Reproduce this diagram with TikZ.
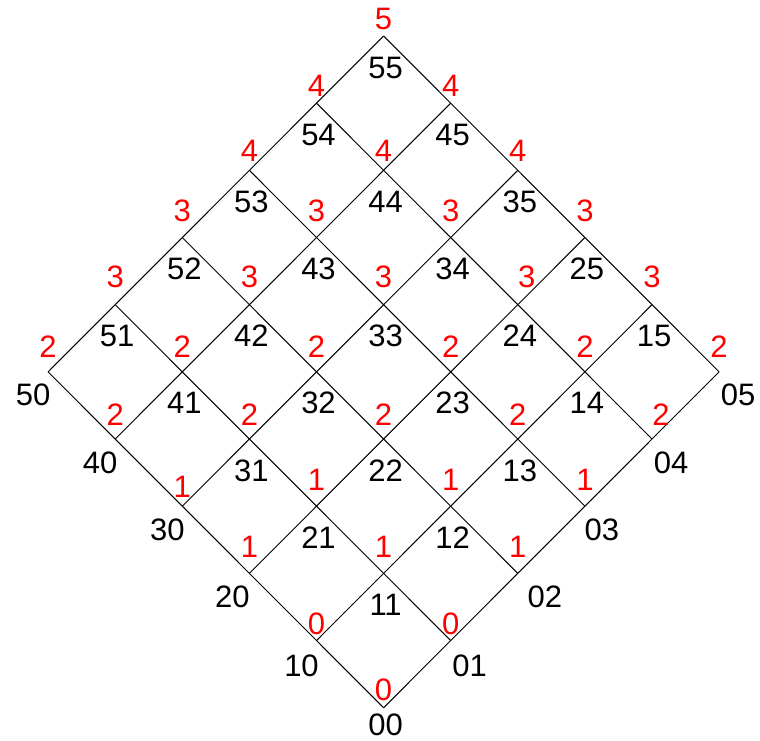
\documentclass[tikz,border=0pt]{standalone}
\usepackage{fontspec}
\setmainfont{Liberation Sans}
\usetikzlibrary{calc}
\begin{document}
\begin{tikzpicture}[x=0.5pt,y=-0.5pt,
  gridline/.style={line width=0.5pt, draw=black},
  redlab/.style={text=red, font=\fontsize{15.5}{18}\selectfont, anchor=base, inner sep=0pt},
  blacklab/.style={text=black, font=\fontsize{15.5}{18}\selectfont, anchor=base, inner sep=0pt}]
\useasboundingbox (0,0) rectangle (760,740);
% vertices
\foreach \i in {0,...,5}{\foreach \j in {0,...,5}{
  \coordinate (v\i\j) at ({383.6+67.1*(\j-\i)},{707.7-67.17*(\i+\j)});
}}
% grid lines
\foreach \i in {0,...,5}{\draw[gridline] (v\i0) -- (v\i5);}
\foreach \j in {0,...,5}{\draw[gridline] (v0\j) -- (v5\j);}
% red labels
\foreach \i in {0,...,5}{\foreach \j in {0,...,5}{
  \pgfmathtruncatemacro\s{\i+\j}
  \pgfmathtruncatemacro\val{floor(\s/2)}
  \edef\dy{\ifcase\s\space 18\or 17\or 27\or 27\or 25\or 25\or 28\or 27\or 20\or 18\or 18\fi}
  \def\dx{0}
  \ifnum\i\j=30 \def\dy{20}\fi
  \ifnum\i\j=4 \def\dx{9}\fi
  \ifnum\i\j=24 \def\dx{9}\fi
  \node[redlab] (r\i\j) at ($(v\i\j)+(\dx,{-(\dy-11)})$) {\val};
}}
% black labels
\foreach \i in {0,...,5}{\foreach \j in {0,...,5}{
  \def\bx{2}\def\by{31}
  \ifnum\i=0 \def\bx{19}\def\by{23}\fi
  \ifnum\j=0 \def\bx{-15}\def\by{23}\fi
  \ifnum\i\j=0 \def\bx{2}\def\by{17}\fi
  \ifnum\i\j=1 \def\by{25}\fi
  \ifnum\i\j=2 \def\bx{27}\fi
  \ifnum\i\j=3 \def\bx{17}\fi
  \ifnum\i\j=10 \def\by{25}\fi
  \ifnum\i\j=20 \def\bx{-17}\fi
  \node[blacklab] (b\i\j) at ($(v\i\j)+(\bx,{\by+11})$) {\i\j};
}}
\end{tikzpicture}
\end{document}
